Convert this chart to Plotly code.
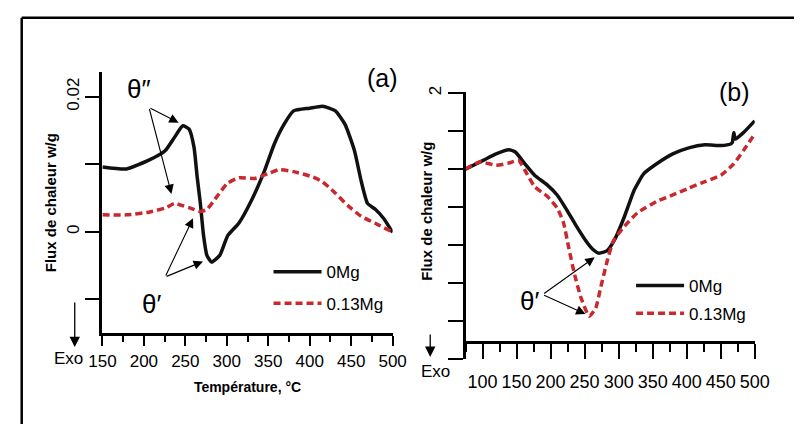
import plotly.graph_objects as go

W, H = 809, 424


def px(x):
    return x / W


def py(y):
    return 1 - y / H


# ---------------- data: panel (a) ----------------
temp_a_0mg = [150, 179, 206, 225.6, 237, 247, 254.6, 260.5, 264.3, 268.1, 272, 276,
              281.7, 291.5, 301, 314.7, 330, 345.7, 357.3, 369, 380.6, 400, 415.5,
              431, 442.6, 454, 461.9, 469.7, 479.4, 489, 500]
flux_a_0mg = [0.0096, 0.0093, 0.0106, 0.0120, 0.0140, 0.0157, 0.0152, 0.0125, 0.0081,
              0.0042, -0.0006, -0.0035, -0.0045, -0.0035, -0.0006, 0.0013, 0.0047,
              0.0091, 0.0130, 0.0159, 0.0179, 0.0183, 0.0186, 0.0179, 0.0159, 0.0120,
              0.0076, 0.0042, 0.0033, 0.0020, -0.0001]

temp_a_013mg = [150, 179, 206, 225.6, 237, 248.5, 256, 268, 276, 288, 301, 314.7, 334,
                349.6, 363, 380.6, 404, 415.5, 431, 446.7, 462, 481.5, 499]
flux_a_013mg = [0.0025, 0.0025, 0.0029, 0.0035, 0.0042, 0.0038, 0.0035, 0.0030, 0.0033,
                0.0052, 0.0072, 0.0080, 0.0079, 0.0086, 0.0092, 0.0089, 0.0081, 0.0074,
                0.0057, 0.0038, 0.0023, 0.0011, 0.0000]

# ---------------- data: panel (b) ----------------
temp_b_0mg = [75, 101, 119.9, 138.7, 148.2, 162.3, 176.5, 195.4, 209.6, 223.7, 237.9,
              252, 261.5, 270.9, 282.7, 294.5, 308.7, 322.9, 337, 355.9, 379.5, 403,
              426.8, 450.4, 464.5, 467, 469.2, 471.6, 483.4, 499.9]
flux_b_0mg = [0.0, 0.23, 0.40, 0.51, 0.45, 0.14, -0.16, -0.42, -0.68, -1.07, -1.50,
              -1.89, -2.10, -2.21, -2.15, -1.84, -1.24, -0.55, -0.12, 0.14, 0.40, 0.56,
              0.64, 0.62, 0.66, 0.70, 0.96, 0.79, 0.96, 1.27]

temp_b_013mg = [75, 96.2, 119.9, 138.7, 152.9, 162.3, 176.5, 195.4, 209.6, 219, 226.1,
                235.5, 245, 256.8, 266.2, 273.3, 282.7, 292.2, 308.7, 327.6, 355.9,
                379.5, 403.1, 426.8, 450.4, 469.2, 483.4, 499.9]
flux_b_013mg = [0.0, 0.19, 0.10, 0.16, 0.23, -0.03, -0.46, -0.72, -1.02, -1.41, -2.02,
                -2.79, -3.40, -3.87, -3.66, -3.14, -2.45, -1.89, -1.50, -1.15, -0.85,
                -0.68, -0.50, -0.33, -0.16, 0.14, 0.49, 0.92]

# tick labels
xticks_a = [150, 200, 250, 300, 350, 400, 450, 500]
yticks_a = [-0.01, 0, 0.01, 0.02]
yticklabels_a = ["", "0", "", "0.02"]
xticks_b = [100, 150, 200, 250, 300, 350, 400, 450, 500]
yticks_b = [-5, -4, -3, -2, -1, 0, 1, 2]
yticklabels_b = ["", "", "", "", "", "", "", "2"]

series_names = ["0Mg", "0.13Mg"]
y_title = "<b>Flux de chaleur w/g</b>"

BLACK = "#111111"
RED = "#c9282d"
FONT = "Liberation Sans"
DASH = "7px,4px"

fig = go.Figure()

fig.add_trace(go.Scatter(x=temp_a_0mg, y=flux_a_0mg, mode="lines", name=series_names[0],
                         line=dict(color=BLACK, width=3.5, shape="spline", smoothing=0.5),
                         xaxis="x", yaxis="y", legend="legend", showlegend=True))
fig.add_trace(go.Scatter(x=temp_a_013mg, y=flux_a_013mg, mode="lines", name=series_names[1],
                         line=dict(color=RED, width=3.5, dash=DASH, shape="spline", smoothing=0.5),
                         xaxis="x", yaxis="y", legend="legend2", showlegend=True))
fig.add_trace(go.Scatter(x=temp_b_0mg, y=flux_b_0mg, mode="lines", name=series_names[0],
                         line=dict(color=BLACK, width=3.5, shape="spline", smoothing=0.5),
                         xaxis="x2", yaxis="y2", legend="legend3", showlegend=True))
fig.add_trace(go.Scatter(x=temp_b_013mg, y=flux_b_013mg, mode="lines", name=series_names[1],
                         line=dict(color=RED, width=3.5, dash=DASH, shape="spline", smoothing=0.5),
                         xaxis="x2", yaxis="y2", legend="legend4", showlegend=True))

axis_common = dict(showgrid=False, zeroline=False, showline=True, linecolor="black",
                   linewidth=3, ticks="outside", tickcolor="black", tickwidth=2)

fig.update_layout(
    width=W, height=H,
    showlegend=True,
    margin=dict(l=0, r=0, t=0, b=0),
    paper_bgcolor="white", plot_bgcolor="white",
    font=dict(family=FONT, color="black"),
    xaxis=dict(axis_common, domain=[px(91.7), px(392.7)], range=[150, 500], anchor="y",
               tickvals=xticks_a, ticklen=10, tickfont=dict(size=17), ticklabelstandoff=0,
               minor=dict(dtick=25, tick0=0, ticklen=6, tickwidth=2, tickcolor="black", ticks="outside"),
               title=dict(text="<b>Température, °C</b>", font=dict(size=14), standoff=13)),
    yaxis=dict(axis_common, domain=[py(332), py(67)], range=[-0.01504, 0.02365], anchor="x",
               tickvals=yticks_a, ticktext=yticklabels_a, ticklen=14, tickangle=-90,
               tickfont=dict(size=17),
               title=dict(text=y_title, font=dict(size=15), standoff=4)),
    xaxis2=dict(axis_common, domain=[px(468.3), px(768.3)], range=[75, 500], anchor="free",
                position=py(340.7), tickvals=xticks_b, ticklen=15, tickfont=dict(size=18),
                ticklabelstandoff=8,
                minor=dict(dtick=25, tick0=0, ticklen=8, tickwidth=2, tickcolor="black", ticks="outside")),
    yaxis2=dict(axis_common, domain=[py(358.3), py(87)], range=[-5, 2.034], anchor="x2",
                tickvals=yticks_b, ticktext=yticklabels_b, ticklen=15, tickangle=-90,
                tickfont=dict(size=17)),
)

leg_common = dict(bgcolor="rgba(0,0,0,0)", borderwidth=0, font=dict(size=17, family=FONT),
                  xanchor="left", yanchor="middle", itemwidth=48, visible=True)
fig.update_layout(
    legend=dict(leg_common, x=px(264), y=py(270)),
    legend2=dict(leg_common, x=px(264), y=py(302)),
    legend3=dict(leg_common, x=px(640), y=py(284)),
    legend4=dict(leg_common, x=px(640), y=py(312)),
)

ann = []
txt = dict(showarrow=False, xanchor="center", yanchor="middle")
# y title of panel (b)
ann.append(dict(txt, x=px(427), y=py(208), xref="paper", yref="paper", text=y_title,
                textangle=-90, font=dict(size=15)))
# panel labels
ann.append(dict(txt, x=px(382), y=py(73), xref="paper", yref="paper", text="(a)",
                font=dict(size=25)))
ann.append(dict(txt, x=px(747), y=py(87), xref="paper", yref="paper", text="(b)",
                font=dict(size=25)))
# phase labels
ann.append(dict(txt, x=194.5, y=0.0212, xref="x", yref="y", text="θ″", font=dict(size=26)))
ann.append(dict(txt, x=209.7, y=-0.01066, xref="x", yref="y", text="θ′", font=dict(size=26)))
ann.append(dict(txt, x=169.5, y=-3.46, xref="x2", yref="y2", text="θ′", font=dict(size=26)))

arrow_style = dict(showarrow=True, text="", arrowhead=2, arrowsize=1.7, arrowwidth=1.1,
                   arrowcolor="black", standoff=0)
# theta'' arrows (a)
for hx, hy in [(241.9, 0.01616), (233.3, 0.0056)]:
    ann.append(dict(arrow_style, x=hx, y=hy, xref="x", yref="y", ax=206.2, ay=0.0184,
                    axref="x", ayref="y"))
# theta' arrows (a)
for hx, hy in [(259.3, 0.0020), (271.3, -0.0044)]:
    ann.append(dict(arrow_style, x=hx, y=hy, xref="x", yref="y", ax=225.6, ay=-0.0067,
                    axref="x", ayref="y"))
# theta' arrows (b)
for hx, hy in [(264.8, -2.32), (251.2, -3.81)]:
    ann.append(dict(arrow_style, x=hx, y=hy, xref="x2", yref="y2", ax=188.3, ay=-3.30,
                    axref="x2", ayref="y2"))

# Exo arrows and labels
ann.append(dict(x=px(63), y=py(346), xref="paper", yref="paper", ax=0, ay=-46, text="",
                showarrow=True, arrowhead=2, arrowsize=1.6, arrowwidth=1.3, arrowcolor="black"))
ann.append(dict(txt, x=px(57), y=py(358), xref="paper", yref="paper", text="Exo",
                font=dict(size=17)))
ann.append(dict(x=px(431.7), y=py(356), xref="paper", yref="paper", ax=0, ay=-24, text="",
                showarrow=True, arrowhead=2, arrowsize=1.6, arrowwidth=1.3, arrowcolor="black"))
ann.append(dict(txt, x=px(437.5), y=py(371), xref="paper", yref="paper", text="Exo",
                font=dict(size=17)))

fig.update_layout(annotations=ann)

# outer frame (top and left edges visible)
fig.add_shape(type="line", xref="paper", yref="paper", x0=px(8), y0=py(12), x1=1, y1=py(12),
              line=dict(color="black", width=2.5))
fig.add_shape(type="line", xref="paper", yref="paper", x0=px(8), y0=py(12), x1=px(8), y1=0,
              line=dict(color="black", width=2.5))

fig.write_html("out.html")
